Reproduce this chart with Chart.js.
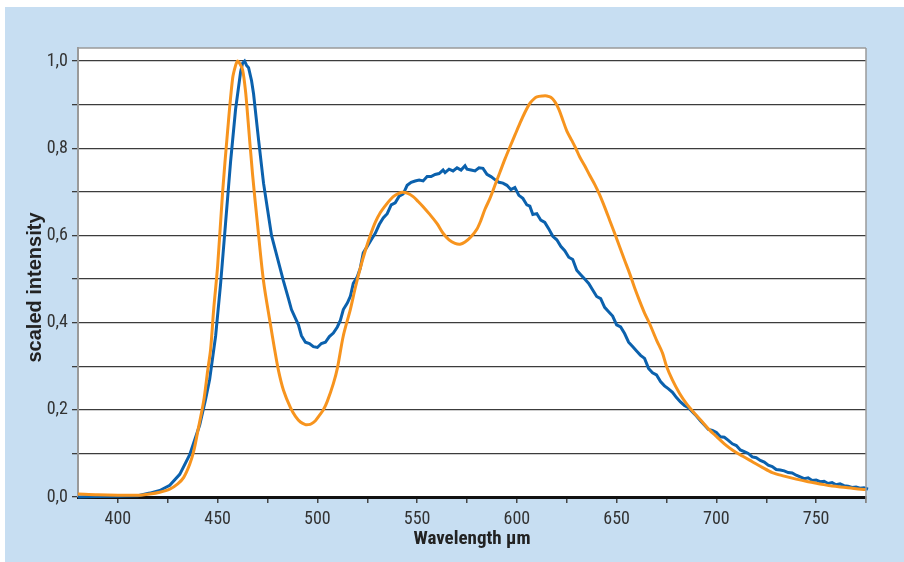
<!DOCTYPE html>
<html>
<head>
<meta charset="utf-8">
<script src="https://cdn.jsdelivr.net/npm/chart.js@4"></script>
<style>
  html, body { margin: 0; padding: 0; background: #ffffff; }
  #frame { position: absolute; left: 5px; top: 7px; width: 899px; height: 555px; background: #c7def2; }
  #frame canvas { display: block; }
</style>
</head>
<body>
<div id="frame"><canvas id="spectrumChart" width="899" height="555"></canvas></div>
<script>
// Blue curve: measured spectrum (wavelength nm, scaled intensity)
var blueWavelength = [380, 390, 400, 410, 416, 421, 426, 431, 436, 441, 444, 446, 449, 451.5, 454, 456.5, 459, 461.5, 462.5, 463.5, 464.5, 465.5, 467, 468, 470.5, 473, 475, 477, 479, 481, 483, 485.5, 487, 489, 490.5, 492, 494, 496, 498, 500, 502, 504, 506, 508, 510, 511.5, 513, 515, 516.5, 518, 520, 521.5, 523, 525, 527, 529, 531, 533, 535, 537, 539, 541, 543, 545, 547, 549, 551, 553, 555, 557, 559, 561, 563, 564, 566, 568, 570, 572, 574, 575, 577, 579, 581, 583, 585, 587, 589, 591, 593, 595, 597, 599, 601, 603, 605, 606.5, 608, 610, 612, 614, 616, 618, 620, 622, 624, 626, 628, 630, 632, 634, 636, 638, 640, 642, 644, 646, 648, 650, 652, 654, 656, 658, 660, 662, 664, 666, 668, 670, 672, 674, 676, 678, 680, 682, 684, 686, 688, 690, 692, 694, 696, 698, 700, 702, 704, 706, 708, 710, 712, 714, 716, 718, 720, 722, 724, 726, 728, 730, 732, 734, 736, 738, 740, 742, 744, 746, 748, 750, 752, 754, 756, 758, 760, 762, 764, 766, 768, 770, 772, 774, 776, 778, 779];
var blueIntensity = [0.000, 0.001, 0.002, 0.003, 0.009, 0.015, 0.027, 0.052, 0.097, 0.165, 0.225, 0.27, 0.37, 0.49, 0.63, 0.77, 0.89, 0.975, 0.995, 1.0, 0.99, 0.985, 0.955, 0.925, 0.82, 0.72, 0.66, 0.60, 0.565, 0.53, 0.495, 0.455, 0.43, 0.41, 0.395, 0.37, 0.355, 0.352, 0.345, 0.343, 0.352, 0.355, 0.368, 0.376, 0.39, 0.405, 0.43, 0.445, 0.46, 0.49, 0.505, 0.525, 0.56, 0.575, 0.59, 0.605, 0.625, 0.64, 0.65, 0.67, 0.675, 0.69, 0.695, 0.715, 0.722, 0.725, 0.727, 0.725, 0.735, 0.735, 0.74, 0.742, 0.75, 0.744, 0.752, 0.748, 0.755, 0.75, 0.76, 0.752, 0.75, 0.748, 0.755, 0.754, 0.74, 0.735, 0.728, 0.722, 0.72, 0.715, 0.705, 0.71, 0.692, 0.685, 0.67, 0.667, 0.648, 0.65, 0.635, 0.63, 0.615, 0.598, 0.59, 0.575, 0.565, 0.55, 0.545, 0.52, 0.51, 0.5, 0.49, 0.475, 0.46, 0.455, 0.435, 0.425, 0.415, 0.395, 0.39, 0.375, 0.355, 0.345, 0.335, 0.325, 0.318, 0.295, 0.285, 0.28, 0.265, 0.255, 0.248, 0.24, 0.228, 0.218, 0.21, 0.205, 0.195, 0.186, 0.175, 0.165, 0.155, 0.153, 0.148, 0.138, 0.137, 0.13, 0.122, 0.118, 0.108, 0.104, 0.1, 0.092, 0.09, 0.084, 0.08, 0.073, 0.07, 0.063, 0.062, 0.06, 0.056, 0.055, 0.05, 0.046, 0.042, 0.044, 0.038, 0.039, 0.035, 0.036, 0.031, 0.033, 0.028, 0.03, 0.026, 0.025, 0.022, 0.023, 0.02, 0.021, 0.018, 0.016, 0.012];

// Orange curve: smooth reference spectrum
var orangeWavelength = [380, 390, 400, 410, 416, 421, 426, 430, 433, 436, 438, 440, 443, 445, 446.5, 448, 450, 452.5, 455, 457.5, 459, 460, 461, 462.5, 464, 465, 467.5, 470, 473, 476.5, 478.5, 480.5, 483, 486.5, 489, 491.5, 494, 495.5, 497, 499, 501, 503, 505, 508, 510, 513, 516.5, 519, 521.5, 524, 526.5, 529, 531.5, 534, 536.5, 539, 542.5, 545, 548, 550.5, 553, 556, 560, 563, 566, 569, 571.5, 574, 577, 580, 582, 584, 586.5, 589, 591.5, 594, 596.5, 599, 601.5, 604, 606.5, 608.5, 610, 613, 615, 617, 619, 621, 623, 625, 627.5, 629.5, 631.5, 634, 636.5, 639, 641.5, 644, 646.5, 649, 651.5, 654, 656.5, 659, 661.5, 664, 666.5, 670, 673, 675, 678, 681.5, 685, 689, 693, 696.5, 700, 704, 708, 713, 718, 723, 728, 734, 740, 746, 752, 758, 765, 770, 775, 780];
var orangeIntensity = [0.007, 0.005, 0.004, 0.004, 0.007, 0.011, 0.018, 0.03, 0.045, 0.075, 0.105, 0.15, 0.22, 0.29, 0.34, 0.43, 0.53, 0.70, 0.84, 0.96, 0.99, 1.0, 0.995, 0.98, 0.93, 0.877, 0.74, 0.625, 0.495, 0.395, 0.34, 0.29, 0.245, 0.205, 0.185, 0.172, 0.166, 0.166, 0.168, 0.175, 0.187, 0.2, 0.22, 0.26, 0.295, 0.37, 0.43, 0.48, 0.525, 0.565, 0.6, 0.63, 0.652, 0.668, 0.682, 0.692, 0.699, 0.697, 0.689, 0.678, 0.666, 0.65, 0.627, 0.605, 0.59, 0.582, 0.58, 0.585, 0.597, 0.615, 0.635, 0.66, 0.685, 0.715, 0.745, 0.775, 0.803, 0.83, 0.857, 0.882, 0.903, 0.913, 0.918, 0.92, 0.92, 0.917, 0.907, 0.89, 0.865, 0.84, 0.818, 0.8, 0.78, 0.76, 0.738, 0.717, 0.693, 0.665, 0.635, 0.605, 0.574, 0.543, 0.513, 0.48, 0.45, 0.422, 0.398, 0.36, 0.33, 0.30, 0.268, 0.238, 0.214, 0.192, 0.172, 0.154, 0.139, 0.122, 0.108, 0.094, 0.081, 0.068, 0.056, 0.048, 0.041, 0.035, 0.03, 0.025, 0.022, 0.019, 0.017, 0.014];

// Axis ticks
var xTickValues = [400, 425, 450, 475, 500, 525, 550, 575, 600, 625, 650, 675, 700, 725, 750, 775];
var xTickLabels = ["400", "", "450", "", "500", "", "550", "", "600", "", "650", "", "700", "", "750", ""];
var yTickValues = [0, 0.1, 0.2, 0.3, 0.4, 0.5, 0.6, 0.7, 0.8, 0.9, 1.0];
var yTickLabels = ["0,0", "", "0,2", "", "0,4", "", "0,6", "", "0,8", "", "1,0"];

var xTitle = "Wavelength µm";
var yTitle = "scaled intensity";

function toPoints(xs, ys) {
  return xs.map(function (x, i) { return { x: x, y: ys[i] }; });
}

var narrowFont = "'Liberation Sans Narrow', 'Roboto Condensed', 'Liberation Sans', sans-serif";
var boldFont = "'Liberation Sans', Arial, sans-serif";

// white plot area, top/right frame lines and the rotated y title
var plotFrame = {
  id: "plotFrame",
  beforeDraw: function (chart) {
    var a = chart.chartArea, c = chart.ctx;
    c.save();
    c.fillStyle = "#ffffff";
    c.fillRect(a.left, a.top, a.right - a.left, a.bottom - a.top);
    c.restore();
  },
  afterDatasetsDraw: function (chart) {
    var a = chart.chartArea, c = chart.ctx;
    c.save();
    c.strokeStyle = "#9a9a9a";
    c.lineWidth = 1.5;
    c.beginPath();
    c.moveTo(a.left, a.top);
    c.lineTo(a.right, a.top);
    c.moveTo(a.right, a.top);
    c.lineTo(a.right, a.bottom + 6);
    c.stroke();
    c.restore();
  },
  afterDraw: function (chart) {
    var a = chart.chartArea, c = chart.ctx;
    c.save();
    c.translate(30, (a.top + a.bottom) / 2 + 15);
    c.rotate(-Math.PI / 2);
    c.fillStyle = "#222222";
    c.font = "bold 20px " + boldFont;
    c.textAlign = "center";
    c.textBaseline = "middle";
    c.fillText(yTitle, 0, 0);
    c.restore();
  }
};

var ctx = document.getElementById("spectrumChart").getContext("2d");

var spectrumChart = new Chart(ctx, {
  type: "line",
  data: {
    datasets: [
      {
        label: "orange",
        data: toPoints(orangeWavelength, orangeIntensity),
        borderColor: "#f7941e",
        borderWidth: 3,
        pointRadius: 0,
        tension: 0.3,
        fill: false,
        clip: 14,
      },
      {
        label: "blue",
        data: toPoints(blueWavelength, blueIntensity),
        borderColor: "#0b61ad",
        borderWidth: 3,
        pointRadius: 0,
        tension: 0,
        fill: false,
        clip: 14,
      },
    ],
  },
  options: {
    responsive: false,
    animation: false,
    layout: { padding: { left: 0, top: 41, right: 38, bottom: 0 } },
    plugins: {
      legend: { display: false },
      tooltip: { enabled: false },
    },
    scales: {
      x: {
        type: "linear",
        min: 380,
        max: 775,
        afterBuildTicks: function (scale) {
          scale.ticks = xTickValues.map(function (v) { return { value: v }; });
        },
        afterFit: function (scale) { scale.height = 65; },
        ticks: {
          autoSkip: false,
          maxRotation: 0,
          padding: 6,
          color: "#333333",
          font: { family: narrowFont, size: 18 },
          callback: function (value) {
            var i = xTickValues.indexOf(value);
            return i >= 0 ? xTickLabels[i] : "";
          },
        },
        grid: {
          drawOnChartArea: false,
          drawTicks: true,
          tickLength: 6,
          color: "#444444",
          lineWidth: 1.5,
        },
        border: { color: "#111111", width: 3 },
        title: {
          display: true,
          text: xTitle,
          color: "#222222",
          font: { family: narrowFont, size: 19, weight: "bold" },
          padding: { top: 0, bottom: 11 },
        },
      },
      y: {
        min: 0,
        max: 1.03,
        afterBuildTicks: function (scale) {
          scale.ticks = yTickValues.map(function (v) { return { value: v }; });
        },
        afterFit: function (scale) { scale.width = 73; },
        ticks: {
          autoSkip: false,
          padding: 4,
          color: "#333333",
          font: { family: narrowFont, size: 18 },
          callback: function (value) {
            var i = yTickValues.findIndex(function (v) { return Math.abs(v - value) < 1e-6; });
            return i >= 0 ? yTickLabels[i] : "";
          },
        },
        grid: {
          color: "#3c3c3c",
          lineWidth: 1.3,
          tickLength: 6,
        },
        border: { color: "#9a9a9a", width: 2 },
      },
    },
  },
  plugins: [plotFrame],
});
</script>
</body>
</html>
